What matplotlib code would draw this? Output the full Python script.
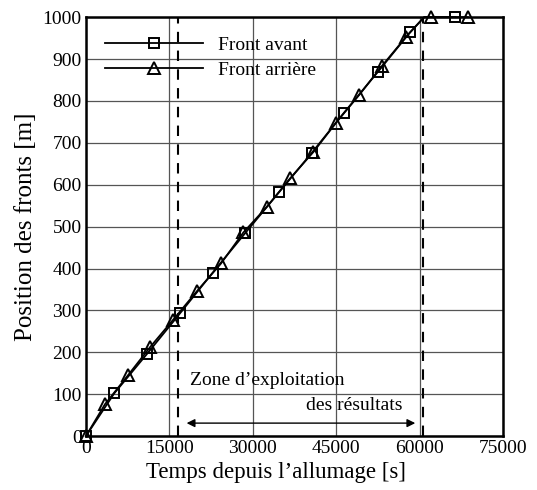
import matplotlib
matplotlib.use('Agg')
import matplotlib.pyplot as plt

plt.rcParams['font.family'] = ['Liberation Serif', 'DejaVu Serif']

# front avant (squares); the 60800 point is where the curve hits the top, no marker there
avant_t = [0, 5090, 11030, 16910, 22780, 28600, 34710, 40590, 46400, 52460, 58270, 60800, 66370]
avant_x = [0, 102, 197, 293, 390, 484, 582, 676, 772, 869, 964, 1000, 1000]
avant_mark = [0, 1, 2, 3, 4, 5, 6, 7, 8, 9, 10, 12]

# front arriere (triangles)
arr_t = [0, 3420, 7610, 11510, 15700, 20020, 24280, 28300, 32500, 36690, 40880, 44960,
         49160, 53180, 57550, 60800, 62000, 68650]
arr_x = [0, 76, 146, 212, 278, 347, 412, 486, 547, 615, 678, 748,
         815, 883, 953, 1000, 1000, 1000]
arr_mark = [0, 1, 2, 3, 4, 5, 6, 7, 8, 9, 10, 11, 12, 13, 14, 16, 17]

zone_start = 16500
zone_end = 60500
arrow_from = 18100
arrow_to = 59200
arrow_y = 31

xticks = [0, 15000, 30000, 45000, 60000, 75000]
yticks = [0, 100, 200, 300, 400, 500, 600, 700, 800, 900, 1000]

fig = plt.figure(figsize=(5.37, 4.9), dpi=100)
ax = fig.add_axes([0.160, 0.110, 0.777, 0.855])

ax.plot(avant_t, avant_x, color='black', lw=1.3, marker='s', ms=7,
        mfc='none', mec='black', mew=1.4, markevery=avant_mark,
        clip_on=False, zorder=5, label='Front avant')
ax.plot(arr_t, arr_x, color='black', lw=1.3, marker='^', ms=8,
        mfc='none', mec='black', mew=1.4, markevery=arr_mark,
        clip_on=False, zorder=5, label='Front arrière')

ax.axvline(zone_start, color='black', lw=1.5, ls=(0, (5, 4)), zorder=3)
ax.axvline(zone_end, color='black', lw=1.5, ls=(0, (5, 4)), zorder=3)

ax.annotate('', xy=(arrow_from, arrow_y), xytext=(arrow_to, arrow_y),
            arrowprops=dict(arrowstyle='<|-|>', color='black', lw=1.0,
                            mutation_scale=12, shrinkA=0, shrinkB=0))
ax.text(18700, 133, 'Zone d\u2019exploitation', fontsize=14, va='center', ha='left')
ax.text(56950, 74, 'des résultats', fontsize=14, va='center', ha='right')

ax.set_xlim(0, 75000)
ax.set_ylim(0, 1000)
ax.set_xticks(xticks)
ax.set_yticks(yticks)
ax.tick_params(length=0, labelsize=14, pad=3)
ax.grid(True, color='#555555', lw=0.9)
for s in ax.spines.values():
    s.set_linewidth(1.8)

ax.set_xlabel('Temps depuis l\u2019allumage [s]', fontsize=16.5)
ax.set_ylabel('Position des fronts [m]', fontsize=18)
ax.xaxis.set_label_coords(0.456, -0.062)
ax.yaxis.set_label_coords(-0.117, 0.5)

leg = ax.legend(loc='upper left', frameon=False, fontsize=14, handlelength=5,
                handletextpad=0.8, labelspacing=0.35, borderaxespad=0.6,
                borderpad=0.4)

fig.savefig('out.png', dpi=100)
